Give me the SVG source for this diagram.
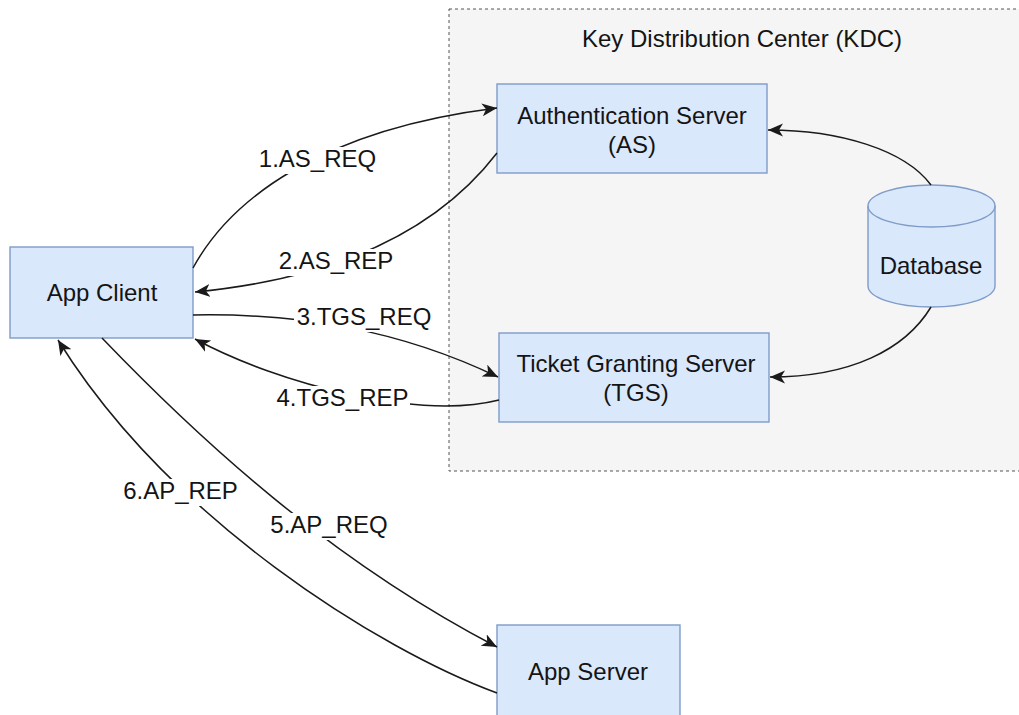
<svg xmlns="http://www.w3.org/2000/svg" width="1019" height="715" viewBox="0 0 1019 715">
  <style>
    text { font-family: "Liberation Sans", Arial, Helvetica, sans-serif; font-size: 24px; fill: #141414; text-anchor: middle; }
    .box { fill: #dae8fc; stroke: #7f9cc9; stroke-width: 1.4; }
    .edge { fill: none; stroke: #1a1a1a; stroke-width: 1.5; marker-end: url(#arrow); }
    .lblbg { fill: #ffffff; stroke: none; }
  </style>
  <defs>
    <marker id="arrow" markerUnits="userSpaceOnUse" markerWidth="16" markerHeight="14" refX="15" refY="6.5" orient="auto">
      <path d="M0,0 L15,6.5 L0,13 L4,6.5 Z" fill="#1a1a1a"/>
    </marker>
  </defs>
  <rect width="1019" height="715" fill="#ffffff"/>

  <g id="kdc">
    <rect x="449" y="9" width="580" height="462" fill="#f5f5f5" stroke="#555555" stroke-width="1" stroke-dasharray="3 3"/>
    <text x="742" y="47">Key Distribution Center (KDC)</text>
  </g>

  <g id="app-client">
    <rect class="box" x="10" y="247" width="183" height="91"/>
    <text x="102" y="301">App Client</text>
  </g>

  <g id="as">
    <rect class="box" x="497" y="84" width="270" height="89"/>
    <text x="632" y="124">Authentication Server</text>
    <text x="632" y="153">(AS)</text>
  </g>

  <g id="tgs">
    <rect class="box" x="499" y="333" width="270" height="89"/>
    <text x="636" y="372">Ticket Granting Server</text>
    <text x="636" y="401">(TGS)</text>
  </g>

  <g id="database">
    <path class="box" d="M868,206 A63.5,21 0 0 1 995,206 L995,286 A63.5,21 0 0 1 868,286 Z"/>
    <path d="M868,206 A63.5,21 0 0 0 995,206" fill="none" stroke="#7f9cc9" stroke-width="1.4"/>
    <text x="931" y="274">Database</text>
  </g>

  <g id="app-server">
    <rect class="box" x="497" y="625" width="183" height="100"/>
    <text x="588" y="680">App Server</text>
  </g>

  <g id="connectors">
    <path class="edge" d="M193,268 C230,200 320,130 497,108"/>
    <path class="edge" d="M497,153 C430,240 320,280 195,292"/>
    <path class="edge" d="M193,315 C300,313 400,330 498,377"/>
    <path class="edge" d="M499,400 C420,420 280,385 195,339"/>
    <path class="edge" d="M102,338 C200,440 330,560 497,647"/>
    <path class="edge" d="M497,693 C380,650 170,520 58,340"/>
    <path class="edge" d="M931,185 C905,150 840,130 768,130"/>
    <path class="edge" d="M931,307 C905,350 850,377 770,377"/>

    <rect class="lblbg" x="256" y="147" width="123" height="27"/>
    <text x="317.5" y="167">1.AS_REQ</text>
    <rect class="lblbg" x="277" y="249" width="118" height="27"/>
    <text x="336" y="269">2.AS_REP</text>
    <rect class="lblbg" x="294" y="305" width="140" height="27"/>
    <text x="364" y="325">3.TGS_REQ</text>
    <rect class="lblbg" x="275" y="386" width="135" height="27"/>
    <text x="342.5" y="406">4.TGS_REP</text>
    <rect class="lblbg" x="268" y="513" width="122" height="27"/>
    <text x="329" y="533">5.AP_REQ</text>
    <rect class="lblbg" x="121" y="479" width="119" height="27"/>
    <text x="180.5" y="499">6.AP_REP</text>
  </g>
</svg>
